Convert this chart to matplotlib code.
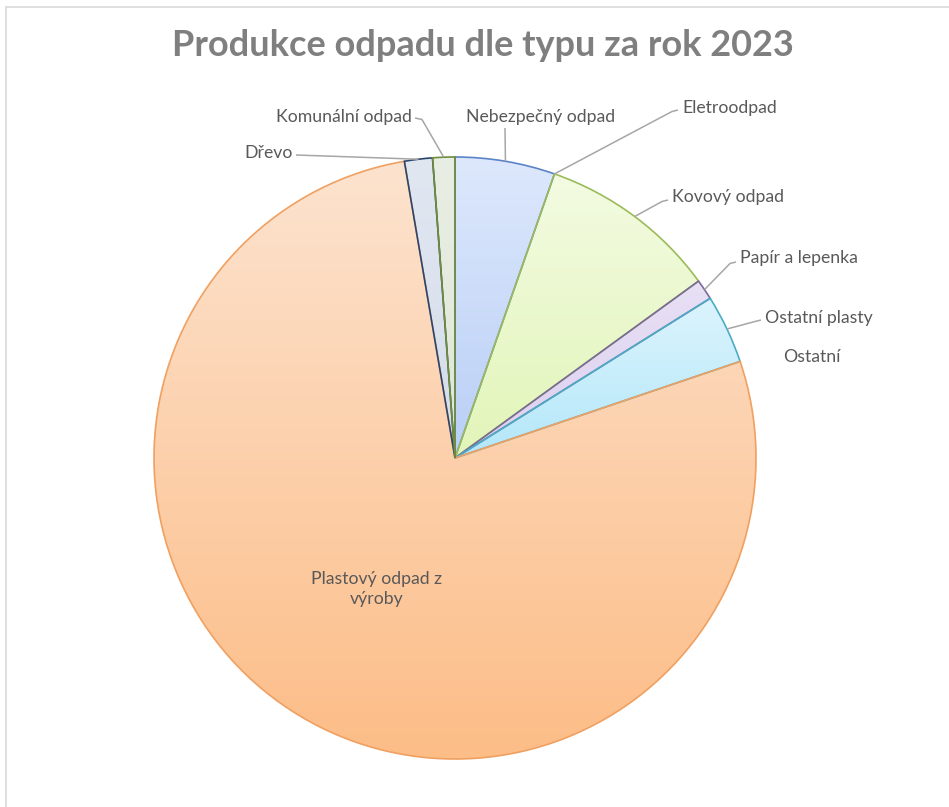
import numpy as np
import matplotlib
matplotlib.use("Agg")
import matplotlib.pyplot as plt
from matplotlib.patches import Rectangle
from matplotlib.colors import to_rgb

plt.rcParams['font.family'] = ['Lato', 'DejaVu Sans']

# data (share in %), clockwise from 12 o'clock
categories = ["Nebezpečný odpad", "Eletroodpad", "Kovový odpad", "Papír a lepenka",
              "Ostatní plasty", "Ostatní", "Plastový odpad z\nvýroby", "Dřevo", "Komunální odpad"]
values = [5.36, 0.0, 9.64, 1.1, 3.7, 0.0, 77.5, 1.5, 1.19]

# styling: gradient top colour, bottom colour, edge colour
top_cols = ["#dde8fc", "#dde8fc", "#f3fbe2", "#e8e0f5", "#dcf4fd", "#ffffff", "#fde3cf", "#e1e7f1", "#e9eee4"]
bot_cols = ["#b9cff6", "#b9cff6", "#e2f5b8", "#dcd0f0", "#b3e7f9", "#ffffff", "#fcbd87", "#d5ddeb", "#dfe7d6"]
edge_cols = ["#5b84c8", "#5b84c8", "#9bbb59", "#7a6a9a", "#4bacc6", "#ffffff", "#f0a060", "#2a4670", "#6e8c3a"]

# label layout in pixels from top-left: (x, y, ha), leader start (or None), horizontal tick
W, H = 949, 807
label_pos = [(466, 117, "left"), (682, 108, "left"), (672, 197, "left"), (740, 258, "left"),
             (765, 318, "left"), (783, 357, "left"), (377, 589, "center"), (293, 153, "right"),
             (412, 117, "right")]
leader_start = [(505, 128), (678, 110), (668, 200), (736, 262), (761, 320), None, None,
                (296, 155), (415, 118)]
leader_tick = [0, -6, -6, -6, -6, 0, 0, 0, 7]

cx, cy, r = 455, H - 458, 301

fig = plt.figure(figsize=(W / 100, H / 100), dpi=100)
ax = fig.add_axes([0, 0, 1, 1])

wedges, _ = ax.pie(values, center=(cx, cy), radius=r, startangle=90, counterclock=False,
                   colors=top_cols, wedgeprops=dict(linewidth=1.2), frame=True)
ax.set_xlim(0, W)
ax.set_ylim(0, H)
ax.set_aspect("equal")
ax.axis("off")

for w, v, c0, c1, ec in zip(wedges, values, top_cols, bot_cols, edge_cols):
    w.set_edgecolor(ec)
    if v <= 0:
        w.set_visible(False)
        continue
    ext = w.get_path().get_extents()
    t = np.linspace(0, 1, 256)[:, None]
    grad = (1 - t) * np.array(to_rgb(c1)) + t * np.array(to_rgb(c0))
    im = ax.imshow(grad[:, None, :], extent=[ext.x0, ext.x1, ext.y0, ext.y1],
                   origin="lower", aspect="auto", zorder=1, interpolation="bilinear")
    im.set_clip_path(w)
    w.set_facecolor("none")
    w.set_zorder(3)

# labels and leader lines
lab_col = "#595959"
for w, lab, (lx, ly, ha), st, tk in zip(wedges, categories, label_pos, leader_start, leader_tick):
    ax.text(lx, H - ly, lab, ha=ha, va="center", fontsize=12.7, color=lab_col,
            linespacing=1.35, zorder=5)
    if st is None:
        continue
    mid = np.deg2rad((w.theta1 + w.theta2) / 2)
    ax_x, ax_y = cx + r * np.cos(mid), cy + r * np.sin(mid)
    sx, sy = st[0], H - st[1]
    xs = [sx, sx + tk, ax_x] if tk else [sx, ax_x]
    ys = [sy, sy - 1.5, ax_y] if tk else [sy, ax_y]
    ax.plot(xs, ys, color="#a6a6a6", lw=1.1, zorder=4, solid_capstyle="butt")

fig.text(483 / W, 1 - 45 / H, "Produkce odpadu dle typu za rok 2023", ha="center", va="center",
         fontsize=26, fontweight="bold", color="#7f7f7f")

# chart area border
fig.patches.append(Rectangle((6 / W, -0.01), 1.02, 1 - 7 / H + 0.01, transform=fig.transFigure,
                             fill=False, edgecolor="#d9d9d9", lw=1.2))

fig.savefig("out.png", dpi=100, facecolor="white")
